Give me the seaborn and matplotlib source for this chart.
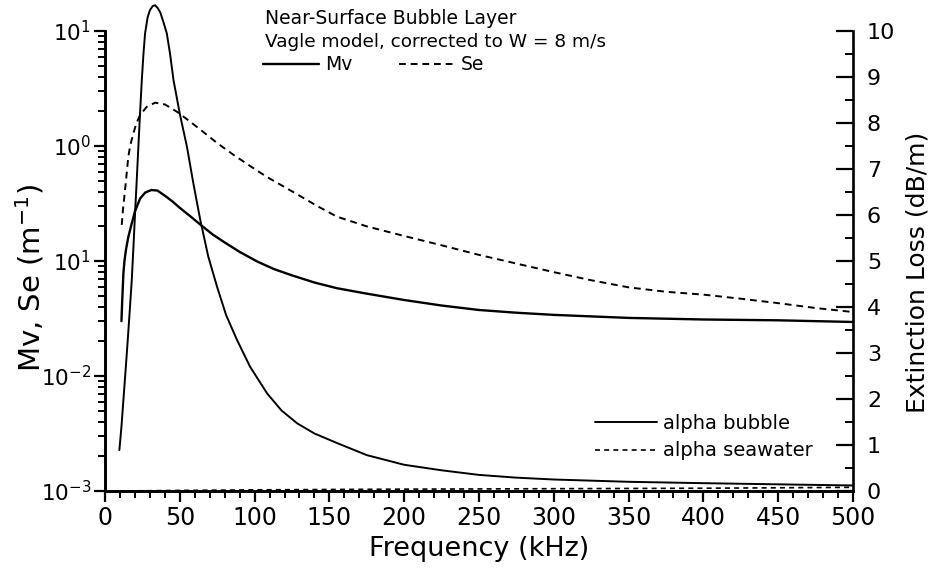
import matplotlib
matplotlib.use("Agg")
import matplotlib.pyplot as plt
import matplotlib.ticker as mticker
import seaborn as sns
import pandas as pd
import numpy as np

# ---------------- data ----------------
freq_mv = [11, 11.5, 12.3, 13, 14, 15.5, 17.9, 20, 23.5, 27, 31, 35, 41, 45, 50, 57, 64, 72, 80, 90,
           102, 113, 125, 140, 155, 175, 200, 225, 250, 275, 300, 350, 400, 450, 500]
mv = [0.030, 0.045, 0.078, 0.10, 0.125, 0.16, 0.213, 0.27, 0.35, 0.395, 0.414, 0.41, 0.362, 0.33, 0.29,
      0.245, 0.206, 0.17, 0.145, 0.12, 0.0986, 0.085, 0.075, 0.065, 0.058, 0.052, 0.0458, 0.041, 0.0375,
      0.0355, 0.034, 0.032, 0.031, 0.0305, 0.0295]

freq_se = [11.2, 12, 13.4, 14.5, 15.6, 17, 19, 21, 23.5, 28, 33.5, 40, 48, 55, 64, 75, 86, 97, 108, 120,
           130, 142, 155, 175, 200, 225, 250, 275, 300, 325, 350, 375, 400, 425, 450, 475, 500]
se = [0.206, 0.28, 0.414, 0.58, 0.81, 1.03, 1.29, 1.58, 1.86, 2.2, 2.38, 2.3, 1.99, 1.7, 1.38, 1.06, 0.836,
      0.67, 0.54, 0.44, 0.37, 0.30, 0.243, 0.20, 0.165, 0.137, 0.113, 0.095, 0.080, 0.068, 0.059, 0.054,
      0.051, 0.047, 0.043, 0.039, 0.036]

freq_ab = [9.6, 11, 12.3, 13.6, 14.9, 16.4, 17.9, 19, 20.1, 21.2, 22.3, 23.4, 24.6, 25.7, 26.8, 28.5, 30,
           31.8, 33.5, 35.2, 37, 39, 41.3, 43.5, 45.8, 50, 54.8, 59, 63.7, 69, 74.9, 81, 88.3, 97, 108.4,
           118, 128.5, 140, 155.3, 175, 200, 225, 250, 275, 300, 350, 400, 450, 500]
alpha_bubble = [0.89, 1.4, 1.98, 2.55, 3.14, 3.85, 4.59, 5.3, 6.04, 6.75, 7.48, 8.2, 8.93, 9.5, 9.95, 10.3,
                10.45, 10.54, 10.56, 10.5, 10.4, 10.2, 9.95, 9.5, 8.93, 8.2, 7.48, 6.7, 5.89, 5.1, 4.44,
                3.82, 3.28, 2.7, 2.12, 1.75, 1.47, 1.25, 1.04, 0.78, 0.57, 0.45, 0.35, 0.29, 0.25, 0.20,
                0.17, 0.145, 0.12]

freq_sw = [10, 50, 100, 150, 200, 300, 400, 500]
alpha_seawater = [0.001, 0.012, 0.025, 0.033, 0.04, 0.05, 0.06, 0.08]

x_ticks = [0, 50, 100, 150, 200, 250, 300, 350, 400, 450, 500]
left_ticks = [1e-3, 1e-2, 1e-1, 1e0, 1e1]
left_tick_labels = [r"$10^{-3}$", r"$10^{-2}$", r"$10^{1}$", r"$10^{0}$", r"$10^{1}$"]
right_ticks = list(range(0, 11))

title_lines = ["Near-Surface Bubble Layer", "Vagle model, corrected to W = 8 m/s"]

# ---------------- style ----------------
sns.set_style("ticks")
plt.rcParams["font.family"] = ["DejaVu Sans"]
plt.rcParams["mathtext.fontset"] = "dejavusans"
for k in ("text.color", "axes.labelcolor", "xtick.color", "ytick.color", "axes.edgecolor"):
    plt.rcParams[k] = "black"

W, H = 937, 575
fig = plt.figure(figsize=(W / 100, H / 100), dpi=100)
ax_l, ax_r, ax_t, ax_b = 105, 853, 31, 491
ax = fig.add_axes([ax_l / W, 1 - ax_b / H, (ax_r - ax_l) / W, (ax_b - ax_t) / H])
ax2 = ax.twinx()

df_mv = pd.DataFrame({"f": freq_mv, "v": mv})
df_se = pd.DataFrame({"f": freq_se, "v": se})
df_ab = pd.DataFrame({"f": freq_ab, "v": alpha_bubble})
df_sw = pd.DataFrame({"f": freq_sw, "v": alpha_seawater})

sns.lineplot(data=df_mv, x="f", y="v", ax=ax, color="black", lw=1.7, label="Mv")
sns.lineplot(data=df_se, x="f", y="v", ax=ax, color="black", lw=1.4, linestyle=(0, (3.5, 2.5)), label="Se")
sns.lineplot(data=df_ab, x="f", y="v", ax=ax2, color="black", lw=1.4, label="alpha bubble", clip_on=False)
sns.lineplot(data=df_sw, x="f", y="v", ax=ax2, color="black", lw=1.2, linestyle=(0, (3, 2.5)),
             label="alpha seawater")

ax.set_yscale("log")
ax.set_xlim(0, 500)
ax.set_ylim(1e-3, 1e1)
ax2.set_ylim(0, 10)

ax.set_xticks(x_ticks)
ax.xaxis.set_minor_locator(mticker.MultipleLocator(10))
ax.yaxis.set_major_locator(mticker.FixedLocator(left_ticks))
ax.yaxis.set_major_formatter(mticker.FixedFormatter(left_tick_labels))
ax.yaxis.set_minor_locator(mticker.LogLocator(base=10, subs=np.arange(2, 10)))
ax.yaxis.set_minor_formatter(mticker.NullFormatter())
ax2.set_yticks(right_ticks)
ax2.yaxis.set_minor_locator(mticker.MultipleLocator(0.5))

ax.tick_params(axis="both", which="major", direction="out", length=8, width=1.6, labelsize=17)
ax.tick_params(axis="both", which="minor", direction="out", length=5, width=1.4)
ax.tick_params(axis="y", which="major", pad=2, labelsize=15.5)
ax.tick_params(axis="x", which="major", pad=3)
ax2.tick_params(axis="y", which="major", direction="in", length=12, width=1.6, labelsize=16, pad=10)
ax2.tick_params(axis="y", which="minor", direction="in", length=6, width=1.4)

for a in (ax, ax2):
    a.spines["top"].set_visible(False)
    for s in a.spines.values():
        s.set_linewidth(1.9)
ax.spines["right"].set_visible(False)

ax.set_xlabel("Frequency (kHz)", fontsize=19.5, labelpad=4)
ax.set_ylabel("")
ax2.set_ylabel("")
fig.text(30 / W, 1 - 278 / H, r"Mv, Se (m$^{-1}$)", rotation=90, ha="center", va="center", fontsize=21)
fig.text(918 / W, 1 - 272 / H, "Extinction Loss (dB/m)", rotation=90, ha="center", va="center", fontsize=18)

# annotation text
tx = (265 - ax_l) / (ax_r - ax_l)
ax.text(tx, 1 - (18 - ax_t) / (ax_b - ax_t), title_lines[0], transform=ax.transAxes,
        fontsize=13.5, va="center", ha="left")
ax.text(tx, 1 - (42 - ax_t) / (ax_b - ax_t), title_lines[1], transform=ax.transAxes,
        fontsize=13.3, va="center", ha="left")

leg1 = ax.legend(loc="center left", bbox_to_anchor=((263 - ax_l) / (ax_r - ax_l), 1 - (65 - ax_t) / (ax_b - ax_t)),
                 ncol=2, frameon=False, fontsize=13.5, handlelength=3.0, handletextpad=0.3,
                 columnspacing=2.5, borderpad=0, borderaxespad=0)
leg2 = ax2.legend(loc="center left", bbox_to_anchor=((595 - ax_l) / (ax_r - ax_l), 1 - (437 - ax_t) / (ax_b - ax_t)),
                  ncol=1, frameon=False, fontsize=14, handlelength=3.2, handletextpad=0.3,
                  labelspacing=0.45, borderpad=0, borderaxespad=0)

fig.savefig("out.png", dpi=100)
